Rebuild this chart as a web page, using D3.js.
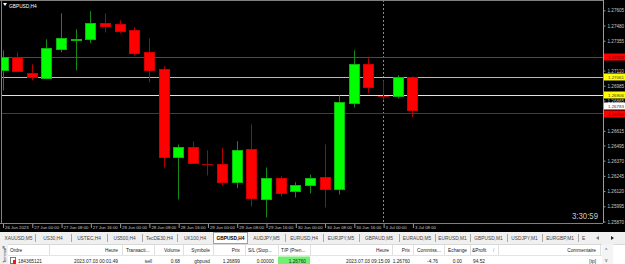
<!DOCTYPE html>
<html><head><meta charset="utf-8">
<script src="https://cdn.jsdelivr.net/npm/d3@7"></script>
<style>
body{margin:0;background:#000;overflow:hidden}
svg{display:block;font-family:"Liberation Sans",Arial,sans-serif}
</style>
</head><body>
<svg id="c" width="625" height="264"></svg>
<script>
// ---------- DATA ----------
const candleTimes = ["26 Jun 16:00","26 Jun 20:00","27 Jun 00:00","27 Jun 04:00","27 Jun 08:00","27 Jun 12:00","27 Jun 16:00","27 Jun 20:00","28 Jun 00:00","28 Jun 04:00","28 Jun 08:00","28 Jun 12:00","28 Jun 16:00","28 Jun 20:00","29 Jun 00:00","29 Jun 04:00","29 Jun 08:00","29 Jun 12:00","29 Jun 16:00","29 Jun 20:00","30 Jun 00:00","30 Jun 04:00","30 Jun 08:00","30 Jun 12:00","30 Jun 16:00","30 Jun 20:00","3 Jul 00:00","3 Jul 04:00","3 Jul 08:00"];
const openP  = [1.27112,1.27219,1.27087,1.27046,1.27284,1.27365,1.27367,1.27498,1.27490,1.27441,1.27260,1.27120,1.26396,1.26478,1.26343,1.26339,1.26191,1.26462,1.26054,1.26224,1.26117,1.26166,1.26232,1.26133,1.26840,1.27161,1.26900,1.26898,1.27054];
const highP  = [1.27276,1.27260,1.27161,1.27367,1.27580,1.27449,1.27597,1.27580,1.27523,1.27465,1.27375,1.27145,1.26503,1.26528,1.26454,1.26473,1.26530,1.26668,1.26314,1.26242,1.26193,1.26256,1.26503,1.26906,1.27276,1.27219,1.27029,1.27071,1.27062];
const lowP   = [1.26947,1.27095,1.27029,1.27038,1.27260,1.27112,1.27334,1.27424,1.27416,1.27235,1.27013,1.26314,1.26051,1.26347,1.26248,1.26166,1.26144,1.25993,1.25903,1.26076,1.26067,1.26100,1.25985,1.26092,1.26807,1.26923,1.26865,1.26881,1.26725];
const closeP = [1.27219,1.27103,1.27054,1.27293,1.27375,1.27373,1.27498,1.27473,1.27432,1.27251,1.27112,1.26396,1.26478,1.26347,1.26343,1.26191,1.26454,1.26059,1.26226,1.26108,1.26166,1.26224,1.26133,1.26849,1.27161,1.26972,1.26900,1.27054,1.26783];

const priceTicks = [1.27605,1.27480,1.27355,1.27230,1.27110,1.26985,1.26865,1.26740,1.26615,1.26495,1.26370,1.26245,1.26120,1.25995,1.25870];
const timeTickLabels = ["26 Jun 2023","27 Jun 00:00","27 Jun 08:00","27 Jun 16:00","28 Jun 00:00","28 Jun 08:00","28 Jun 16:00","29 Jun 00:00","29 Jun 08:00","29 Jun 16:00","30 Jun 00:00","30 Jun 08:00","30 Jun 16:00","3 Jul 00:00","3 Jul 08:00"];
const timeTickCandles = ["26 Jun 16:00","27 Jun 00:00","27 Jun 08:00","27 Jun 16:00","28 Jun 00:00","28 Jun 08:00","28 Jun 16:00","29 Jun 00:00","29 Jun 08:00","29 Jun 16:00","30 Jun 00:00","30 Jun 08:00","30 Jun 16:00","3 Jul 00:00","3 Jul 08:00"];

const levelPrices = [1.27222, 1.27061, 1.26906, 1.26760];
const bidPrice = 1.26783;
const separatorTime = "3 Jul 00:00";
const symbolTitle = "GBPUSD,H4";
const timerText = "3:30:59";

const tabLabels = ["XAUUSD,M5","US30,H4","USTEC,H4","US500,H4","TecDE30,H4","UK100,H4","GBPUSD,H4","AUDJPY,M5","EURUSD,H4","EURJPY,M5","GBPAUD,M5","EURAUD,M5","EURUSD,M1","GBPUSD,M1","USDJPY,M1","EURGBP,M1","E"];
const activeTab = "GBPUSD,H4";
const tableHeaders = ["Ordre","Heure","Transacti...","Volume","Symbole","Prix","S/L (Stop...","T/P (Pren...","Heure","Prix","Commiss...","Echange","&Profit","Commentaire"];
const tableRow = ["184365121","2023.07.03 00:01:49","sell","0.68","gbpusd","1.26899","0.00000","1.26760","2023.07.03 09:15:09","1.26760","-4.76","0.00","94.52","[tp]"];

// ---------- LAYOUT / STYLE ----------
const W = 625, chartL = 2, chartR = 603, chartT = 1, chartB = 223;
const levelColors = ["#ff0000","#d2d200","#ffff00","#d00000"];
const labelFill = ["#ff0000","#ffff00","#ffff00","#ff0000"];
const upBody = "#00ff00", upWick = "#138a13", dnBody = "#ff0000", dnWick = "#b00000";

const svg = d3.select("#c");
svg.append("rect").attr("width",W).attr("height",264).attr("fill","#000");

const x = d3.scalePoint().domain(candleTimes).range([2.5, 412.4]);
const y = d3.scaleLinear().domain([1.25870, 1.27605]).range([221.5, 10.3]);

// frame
svg.append("line").attr("x1",0).attr("x2",chartR).attr("y1",0.5).attr("y2",0.5).attr("stroke","#808080");
svg.append("line").attr("x1",1.5).attr("x2",1.5).attr("y1",0).attr("y2",chartB).attr("stroke","#808080");

const defs = svg.append("defs");
defs.append("clipPath").attr("id","clip").append("rect")
  .attr("x",chartL).attr("y",chartT).attr("width",chartR-chartL).attr("height",chartB-chartT);
const plot = svg.append("g").attr("clip-path","url(#clip)");

// day separator
plot.append("line")
  .attr("x1",Math.round(x(separatorTime))+0.5).attr("x2",Math.round(x(separatorTime))+0.5)
  .attr("y1",0).attr("y2",chartB).attr("stroke","#8a8a8a").attr("stroke-dasharray","2,2");

// level lines
plot.selectAll("line.level").data(levelPrices).join("line").attr("class","level")
  .attr("x1",chartL).attr("x2",chartR)
  .attr("y1",d=>Math.round(y(d))+0.5).attr("y2",d=>Math.round(y(d))+0.5)
  .attr("stroke",(d,i)=>levelColors[i]).attr("stroke-width",1);

// candles
const candles = candleTimes.map((t,i)=>({t,o:openP[i],h:highP[i],l:lowP[i],c:closeP[i]}));
const cg = plot.selectAll("g.candle").data(candles).join("g").attr("class","candle");
cg.append("line")
  .attr("x1",d=>Math.round(x(d.t))+0.5).attr("x2",d=>Math.round(x(d.t))+0.5)
  .attr("y1",d=>y(d.h)).attr("y2",d=>y(d.l))
  .attr("stroke",d=>d.c>d.o?upWick:dnWick);
cg.each(function(d){
  const g = d3.select(this);
  const cx = Math.round(x(d.t));
  const top = y(Math.max(d.o,d.c)), bot = y(Math.min(d.o,d.c));
  if (d.o === d.c) {
    g.append("line").attr("x1",cx-5).attr("x2",cx+6)
      .attr("y1",Math.round(top)+0.5).attr("y2",Math.round(top)+0.5)
      .attr("stroke",dnWick);
  } else {
    const up = d.c>d.o;
    g.append("rect").attr("x",cx-5+0.5).attr("width",10)
      .attr("y",Math.round(top)+0.5).attr("height",Math.max(0.01,Math.round(bot)-Math.round(top)))
      .attr("fill",up?upBody:dnBody).attr("stroke",up?"#0bb80b":"#d00000").attr("stroke-width",1);
  }
});

// price axis
svg.append("line").attr("x1",chartR+0.5).attr("x2",chartR+0.5).attr("y1",0).attr("y2",chartB)
  .attr("stroke","#9a9a9a");
const ya = svg.append("g").attr("transform",`translate(${chartR+0.5},0)`)
  .call(d3.axisRight(y).tickValues(priceTicks).tickFormat(d3.format(".5f")).tickSize(2).tickSizeOuter(0));
ya.select(".domain").remove();
ya.selectAll("line").attr("stroke","#9a9a9a");
const labelYs = levelPrices.map(p=>y(p));
ya.selectAll("text").attr("fill","#c8c8c8").attr("font-size","4.6px").attr("x",4).attr("dy","0.35em")
  .each(function(d){
    const dist = Math.min(...labelYs.map(ly=>Math.abs(ly-y(d))));
    const t = d3.select(this);
    if (dist < 2.5) t.remove();               // fully covered by a price label in the reference
    else if (dist < 4.5) t.attr("y", 4);      // peeks out just below the label box
  });

// price labels (bid label sits just above the TP label, partly hidden)
const plabels = [
  {p:bidPrice, fill:"#ffffff", dy:-4},
  ...levelPrices.map((p,i)=>({p, fill:labelFill[i], dy: i===3?1:0}))
];
const pl = svg.selectAll("g.plabel").data(plabels).join("g").attr("class","plabel")
  .attr("transform",d=>`translate(${chartR+1},${Math.round(y(d.p))+d.dy})`);
pl.append("rect").attr("x",0).attr("y",-3.5).attr("width",W-chartR).attr("height",7).attr("fill",d=>d.fill);
pl.append("text").attr("x",4).attr("y",0).attr("dy","0.35em").attr("font-size","4.4px")
  .attr("fill",d=>d.fill==="#ff0000"?"#600000":"#333").text(d=>d3.format(".5f")(d.p));

// time axis
const xa = svg.append("g").attr("transform",`translate(0,${chartB})`)
  .call(d3.axisBottom(x).tickValues(timeTickCandles).tickFormat((d,i)=>timeTickLabels[i]).tickSize(5).tickSizeOuter(0));
xa.select(".domain").remove();
xa.selectAll("line").attr("stroke","#9a9a9a").attr("transform","translate(0.5,0)");
xa.selectAll("text").attr("fill","#c8c8c8").attr("font-size","4.3px")
  .attr("text-anchor","start").attr("x",2).attr("y",2.5);
svg.append("line").attr("x1",0).attr("x2",chartR).attr("y1",chartB+0.5).attr("y2",chartB+0.5).attr("stroke","#808080");

// title
svg.append("path").attr("d","M3,3 L7,3 L5,6 Z").attr("fill","#fff");
svg.append("text").attr("x",9).attr("y",7.5).attr("font-size","4.8px").attr("fill","#fff").text(symbolTitle);

// timer
svg.append("text").attr("x",572).attr("y",219).attr("font-size","9px").attr("fill","#c8c8c8")
  .attr("textLength",26).attr("lengthAdjust","spacingAndGlyphs").text(timerText);

// ---------- TABS ----------
const tabY = 232;
svg.append("rect").attr("x",0).attr("y",tabY).attr("width",W).attr("height",12).attr("fill","#f0f0f0");
const tabEdges = [2,35,71,107,142,177,213,248,285,323,359,399,435,470,507,542,578,592];
tabLabels.forEach((t,i)=>{
  const a = tabEdges[i], b = tabEdges[i+1];
  const active = t===activeTab;
  if (active) svg.append("rect").attr("x",a+0.5).attr("y",tabY+0.5).attr("width",b-a-1).attr("height",11)
      .attr("fill","#fff").attr("stroke","#a0a0a0");
  else if (i>0 && tabLabels[i-1]!==activeTab) svg.append("line").attr("x1",a+0.5).attr("x2",a+0.5)
      .attr("y1",tabY+2).attr("y2",tabY+10).attr("stroke","#a8a8a8");
  svg.append("text").attr("x", i===tabLabels.length-1 ? a+4 : (a+b)/2).attr("y",tabY+8)
    .attr("text-anchor", i===tabLabels.length-1 ? "start":"middle")
    .attr("font-size","4.8px").attr("fill", active?"#000":"#444").attr("font-weight",active?"bold":"normal").text(t);
});
svg.append("path").attr("d",`M599,${tabY+4} L596,${tabY+6} L599,${tabY+8}Z`).attr("fill","#777");
svg.append("path").attr("d",`M611,${tabY+4} L614,${tabY+6} L611,${tabY+8}Z`).attr("fill","#222");

// ---------- TABLE ----------
const hY = 244, rY = 255;
svg.append("rect").attr("x",0).attr("y",hY).attr("width",W).attr("height",20).attr("fill","#ffffff");
svg.append("line").attr("x1",8).attr("x2",W).attr("y1",hY+0.5).attr("y2",hY+0.5).attr("stroke","#d8d8d8");
svg.append("line").attr("x1",8).attr("x2",602).attr("y1",rY+0.5).attr("y2",rY+0.5).attr("stroke","#e4e4e4");
// left terminal strip
svg.append("rect").attr("x",0).attr("y",hY).attr("width",8).attr("height",20).attr("fill","#f0f0f0");
svg.append("text").attr("x",2).attr("y",hY+5).attr("font-size","5px").attr("fill","#333").text("×");
svg.append("text").attr("transform",`translate(6,${hY+19}) rotate(-90)`).attr("font-size","4px").attr("fill","#333").text("Terminal");
// column dividers
const colDiv = [49,122,154,183,213,245,278,310,392,413,444,470,498,600];
colDiv.forEach(d=>svg.append("line").attr("x1",d+0.5).attr("x2",d+0.5).attr("y1",hY+1).attr("y2",rY)
  .attr("stroke","#e0e0e0"));
// scrollbar
svg.append("rect").attr("x",602).attr("y",hY).attr("width",11).attr("height",20).attr("fill","#f4f4f4");
svg.append("text").attr("x",605).attr("y",hY+8).attr("font-size","5px").attr("fill","#444").text("^");
svg.append("text").attr("x",605).attr("y",rY+7).attr("font-size","5px").attr("fill","#444").text("v");

// header texts [anchorX, anchor]
const colPos = [[10,"start"],[118,"end"],[126,"start"],[180,"end"],[210,"end"],[240,"end"],[248,"start"],[281,"start"],[389,"end"],[410,"end"],[417,"start"],[467,"end"],[472,"start"],[596,"end"]];
tableHeaders.forEach((h,i)=>{
  svg.append("text").attr("x",colPos[i][0]).attr("y",hY+7.5).attr("text-anchor",colPos[i][1])
    .attr("font-size","4.8px").attr("fill","#222").text(h);
});
svg.append("text").attr("x",493).attr("y",hY+7.5).attr("font-size","4.8px").attr("fill","#888").text("/");

// T/P cell
svg.append("rect").attr("x",278).attr("y",rY+1.5).attr("width",32).attr("height",8).attr("fill","#72f072");
// icon
svg.append("rect").attr("x",10.5).attr("y",rY+2.5).attr("width",5).attr("height",6).attr("fill","#fff").attr("stroke","#777");
svg.append("rect").attr("x",13).attr("y",rY+5).attr("width",3).attr("height",4).attr("fill","#e02020");
const rowPos = [[18,"start"],[118,"end"],[152,"end"],[180,"end"],[210,"end"],[240,"end"],[274,"end"],[306,"end"],[390,"end"],[410,"end"],[438,"end"],[462,"end"],[485,"end"],[596,"end"]];
tableRow.forEach((v,i)=>{
  svg.append("text").attr("x",rowPos[i][0]).attr("y",rY+7.5).attr("text-anchor",rowPos[i][1])
    .attr("font-size","4.8px").attr("fill","#222").text(v);
});
</script>
</body></html>
